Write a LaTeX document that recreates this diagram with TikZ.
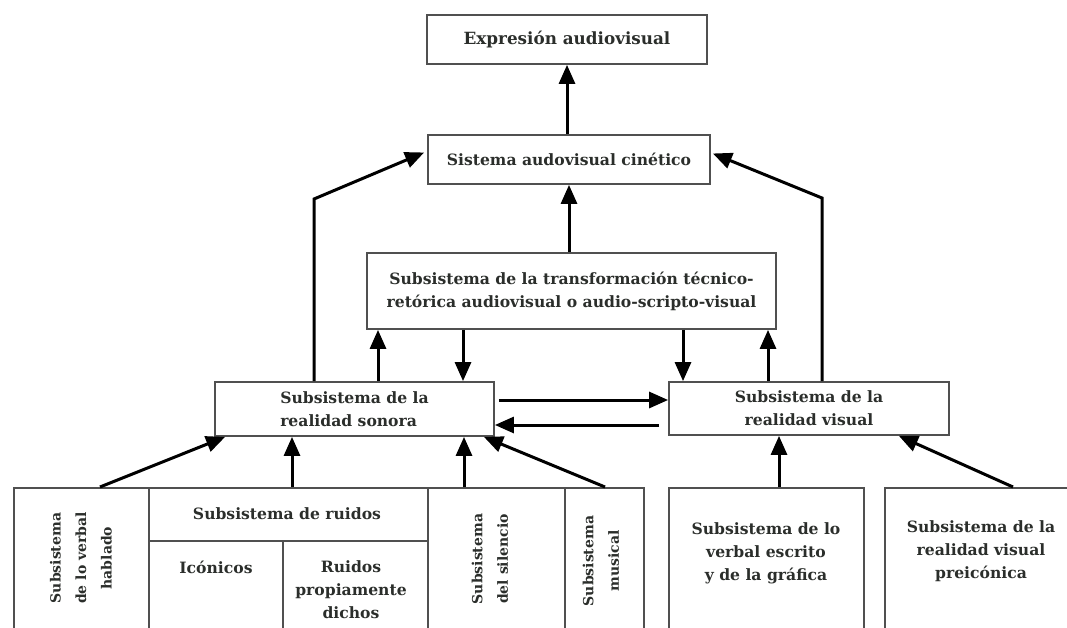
\documentclass[tikz,border=0pt]{standalone}
\usepackage{fontspec}
\setmainfont{DejaVu Serif}
\usetikzlibrary{arrows.meta,calc}
\definecolor{ink}{HTML}{2B2E2B}
\definecolor{frame}{HTML}{505050}
\begin{document}
\begin{tikzpicture}[x=1pt,y=-1pt,
  box/.style={draw=frame, line width=1.8pt, fill=white, rectangle, inner sep=0pt,
    text=ink, font=\fontsize{15.6}{23}\selectfont\bfseries, align=center},
  bottombox/.style={draw=frame, line width=1.8pt, rectangle, inner sep=0pt,
    anchor=north west, minimum height=220},
  divider/.style={draw=frame, line width=1.8pt},
  txt/.style={text=ink, inner sep=0pt, align=center,
    font=\fontsize{15.6}{23}\selectfont\bfseries},
  rtxt/.style={text=ink, inner sep=0pt, align=center, rotate=90,
    font=\fontsize{14}{25.5}\selectfont\bfseries},
  arr/.style={line width=3pt, draw=black, -{Triangle[length=19pt,width=16pt]}}
]
\useasboundingbox (0,0) rectangle (1067,628);
\clip (0,0) rectangle (1067,628);

% upper levels
\node[box, minimum width=280, minimum height=49, font=\fontsize{16.8}{20}\selectfont\bfseries]
  (expr) at (567,39.5) {Expresión audiovisual};
\node[box, minimum width=282, minimum height=49] (cin) at (569,159.5) {Sistema audovisual cinético};
\node[box, minimum width=409, minimum height=76] (trans) at (571.5,291)
  {Subsistema de la transformación técnico-\\retórica audiovisual o audio-scripto-visual};
\node[box, minimum width=279, minimum height=54, align=left] (sonora) at (354.5,409)
  {Subsistema de la\\realidad sonora};
\node[box, minimum width=280, minimum height=53] (visual) at (809,408.5)
  {Subsistema de la\\realidad visual};

% bottom row of subsystems (open at the lower edge)
\node[bottombox, minimum width=135] (hablado) at (13,487) {};
\node[bottombox, minimum width=279] (ruidos) at (148,487) {};
\node[bottombox, minimum width=137] (silencio) at (427,487) {};
\node[bottombox, minimum width=79] (musical) at (564,487) {};
\node[bottombox, minimum width=195] (grafica) at (668,487) {};
\node[bottombox, minimum width=220] (preico) at (884,487) {};

% partitions of the noise subsystem
\draw[divider] ($(ruidos.north west)+(0,54)$) -- ($(ruidos.north east)+(0,54)$);
\draw[divider] ($(ruidos.north west)+(135,54)$) -- ($(ruidos.north west)+(135,220)$);

% labels of the bottom row
\node[rtxt] (hablado-t) at (81,558) {Subsistema\\de lo verbal\\hablado};
\node[txt] (ruidos-t) at (287,514) {Subsistema de ruidos};
\node[txt] (iconicos-t) at (216,567) {Icónicos};
\node[txt] (propios-t) at (351,590) {Ruidos\\propiamente\\dichos};
\node[rtxt] (silencio-t) at (490,559) {Subsistema\\del silencio};
\node[rtxt] (musical-t) at (601,561) {Subsistema\\musical};
\node[txt] (grafica-t) at (766,553) {Subsistema de lo\\verbal escrito\\y de la gráfica};
\node[txt] (preico-t) at (981,551) {Subsistema de la\\realidad visual\\preicónica};

% helper columns and rows for the connectors
\coordinate (bendL) at (314,199);
\coordinate (bendR) at (822,198);
\coordinate (upS) at (378,0);
\coordinate (dnS) at (463,0);
\coordinate (dnV) at (683,0);
\coordinate (upV) at (768,0);
\coordinate (colR) at (292,0);
\coordinate (colSil) at (464,0);
\coordinate (colG) at (779,0);
\coordinate (rowA) at (0,400);
\coordinate (rowB) at (0,425);

% connectors
\draw[arr] (cin.north -| expr.south) -- (expr.south);
\draw[arr] (trans.north -| cin.south) -- (cin.south);
\draw[arr] (sonora.north -| bendL) -- (bendL) -- ($(cin.west)+(-3,-7)$);
\draw[arr] (visual.north -| bendR) -- (bendR) -- ($(cin.east)+(2,-6)$);
\draw[arr] (sonora.north -| upS) -- (trans.south -| upS);
\draw[arr] (trans.south -| dnS) -- (sonora.north -| dnS);
\draw[arr] (trans.south -| dnV) -- (visual.north -| dnV);
\draw[arr] (visual.north -| upV) -- (trans.south -| upV);
\draw[arr, shorten <=4pt] (sonora.east |- rowA) -- (visual.west |- rowA);
\draw[arr, shorten <=9pt] (visual.west |- rowB) -- (sonora.east |- rowB);

\draw[arr] ($(hablado.north west)+(87,0)$) -- ($(sonora.south west)+(11,0)$);
\draw[arr] (ruidos.north -| colR) -- (sonora.south -| colR);
\draw[arr] (silencio.north -| colSil) -- (sonora.south -| colSil);
\draw[arr] ($(musical.north west)+(41,0)$) -- ($(sonora.south east)+(-11,0)$);
\draw[arr] (grafica.north -| colG) -- (visual.south -| colG);
\draw[arr] ($(preico.north west)+(129,0)$) -- ($(visual.south east)+(-51,0)$);
\end{tikzpicture}
\end{document}
